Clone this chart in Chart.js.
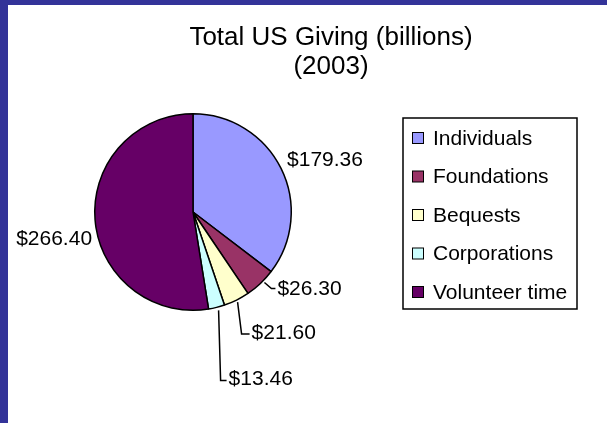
<!DOCTYPE html>
<html>
<head>
<meta charset="utf-8">
<script src="https://cdn.jsdelivr.net/npm/chart.js@4/dist/chart.umd.min.js"></script>
<style>
  html, body { margin: 0; padding: 0; background: #fff; }
  #frame {
    width: 599px; height: 418px;
    border-left: 8px solid #333399;
    border-top: 5px solid #333399;
    background: #fff;
  }
  canvas { display: block; }
</style>
</head>
<body>
<div id="frame"><canvas id="chart" width="599" height="418"></canvas></div>
<script>
var titleLines = ['Total US Giving (billions)', '(2003)'];
var categories = ['Individuals', 'Foundations', 'Bequests', 'Corporations', 'Volunteer time'];
var giving = [179.36, 26.30, 21.60, 13.46, 266.40];
var sliceColors = ['#9999ff', '#993366', '#ffffcc', '#ccffff', '#660066'];

var FONT = '"Liberation Sans", Arial, sans-serif';

// where each value label sits, relative to the point on the rim at the slice middle
var labelPlacement = [
  { text: [6, -8], align: 'left' },
  { text: [17, 5.5], align: 'left', leader: [[4, -1], [11, 5], [15, 5]] },
  { text: [15, 33.5], align: 'left', leader: [[1, 2], [5, 34], [13, 34]] },
  { text: [12, 71.5], align: 'left', leader: [[2, 3], [4, 73], [10, 73]] },
  { text: [-3, 19.5], align: 'right' }
];

var titlePlugin = {
  id: 'plainTitle',
  afterDraw: function (chart) {
    var ctx = chart.ctx;
    ctx.save();
    ctx.fillStyle = '#000';
    ctx.font = '26px ' + FONT;
    ctx.textAlign = 'center';
    ctx.textBaseline = 'alphabetic';
    ctx.fillText(titleLines[0], 323, 40);
    ctx.fillText(titleLines[1], 323, 69);
    ctx.restore();
  }
};

var valueLabels = {
  id: 'valueLabels',
  afterDatasetsDraw: function (chart) {
    var ctx = chart.ctx;
    var arcs = chart.getDatasetMeta(0).data;
    ctx.save();
    ctx.font = '21px ' + FONT;
    ctx.fillStyle = '#000';
    ctx.strokeStyle = '#000';
    ctx.lineWidth = 1.5;
    ctx.textBaseline = 'middle';
    arcs.forEach(function (arc, i) {
      var p = arc.getProps(['x', 'y', 'startAngle', 'endAngle', 'outerRadius'], true);
      var mid = (p.startAngle + p.endAngle) / 2;
      var ex = p.x + Math.cos(mid) * p.outerRadius;
      var ey = p.y + Math.sin(mid) * p.outerRadius;
      var place = labelPlacement[i];
      if (place.leader) {
        ctx.beginPath();
        place.leader.forEach(function (pt, k) {
          if (k === 0) ctx.moveTo(ex + pt[0], ey + pt[1]);
          else ctx.lineTo(ex + pt[0], ey + pt[1]);
        });
        ctx.stroke();
      }
      ctx.textAlign = place.align;
      ctx.fillText('$' + giving[i].toFixed(2), ex + place.text[0], ey + place.text[1]);
    });
    ctx.restore();
  }
};

var boxedLegend = {
  id: 'boxedLegend',
  afterDraw: function (chart) {
    var ctx = chart.ctx;
    var left = 395, top = 113, width = 174, height = 191;
    ctx.save();
    ctx.lineWidth = 1.5;
    ctx.strokeStyle = '#000';
    ctx.strokeRect(left, top, width, height);
    ctx.font = '21px ' + FONT;
    ctx.textAlign = 'left';
    ctx.textBaseline = 'middle';
    categories.forEach(function (name, i) {
      var cy = top + 20 + i * 38.5;
      ctx.fillStyle = sliceColors[i];
      ctx.fillRect(left + 9.5, cy - 5.5, 11, 11);
      ctx.lineWidth = 1;
      ctx.strokeRect(left + 9.5, cy - 5.5, 11, 11);
      ctx.fillStyle = '#000';
      ctx.fillText(name, left + 30, cy + 1);
    });
    ctx.restore();
  }
};

new Chart(document.getElementById('chart'), {
  type: 'pie',
  data: {
    labels: categories,
    datasets: [{
      data: giving,
      backgroundColor: sliceColors,
      borderColor: '#000',
      borderWidth: 1.5,
      borderAlign: 'center'
    }]
  },
  options: {
    responsive: false,
    animation: false,
    layout: { padding: { left: 86, top: 108, right: 315, bottom: 112 } },
    plugins: {
      legend: { display: false },
      title: { display: false },
      tooltip: { enabled: false }
    }
  },
  plugins: [titlePlugin, valueLabels, boxedLegend]
});
</script>
</body>
</html>
